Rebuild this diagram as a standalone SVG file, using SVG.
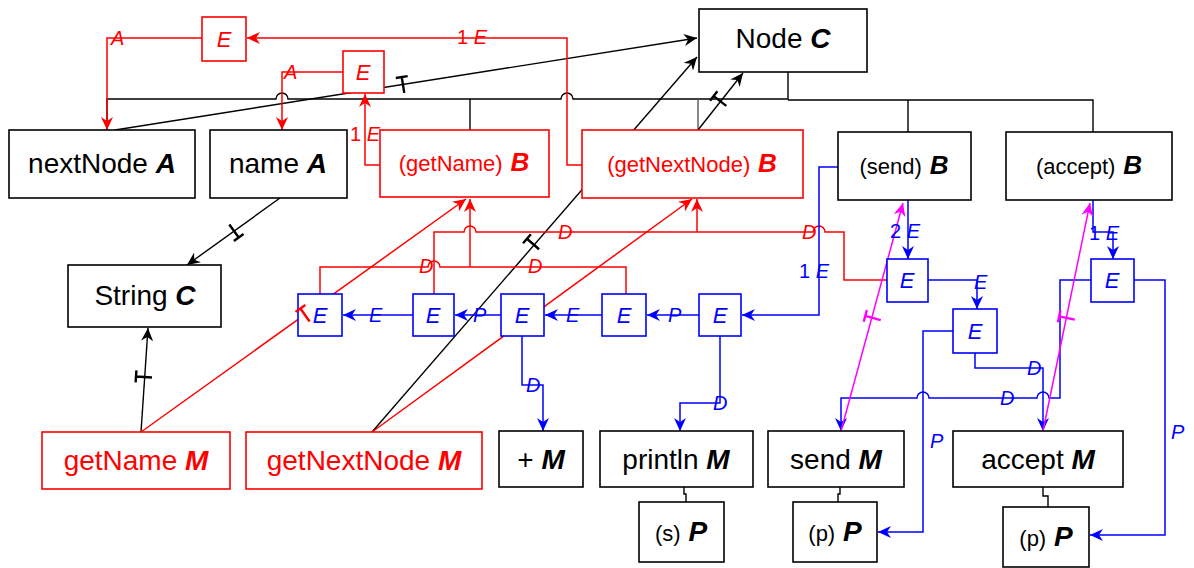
<svg xmlns="http://www.w3.org/2000/svg" width="1194" height="568" viewBox="0 0 1194 568">
  <style>
    text { font-family: "Liberation Sans", Arial, sans-serif; }
    .box { fill: #fff; stroke: #000; stroke-width: 1.6; }
    .rbox { fill: #fff; stroke: #ff0000; stroke-width: 1.6; }
    .ebox { fill: #fff; stroke: #0000ff; stroke-width: 1.6; }
    .erbox { fill: #fff; stroke: #ff0000; stroke-width: 1.6; }
    .lbl { font-size: 28px; text-anchor: middle; fill: #000; }
    .rl { fill: #ff0000; }
    .sm { font-size: 22px; }
    .kind { font-weight: bold; font-style: italic; }
    .etxt { font-size: 22px; font-style: italic; text-anchor: middle; }
    .elab { font-size: 20px; font-style: italic; }
    .num { font-style: normal; }
    .k { fill: none; stroke: #000; stroke-width: 1.4; }
    .kg { fill: none; stroke: #555; stroke-width: 1.4; }
    .r { fill: none; stroke: #ff0000; stroke-width: 1.5; }
    .b { fill: none; stroke: #0000ff; stroke-width: 1.5; }
    .m { fill: none; stroke: #ff00ff; stroke-width: 1.5; }
    .tick { fill: none; stroke-width: 2.4; }
  </style>
  <defs>
    <marker id="ak" markerUnits="userSpaceOnUse" markerWidth="14" markerHeight="12" refX="13" refY="6" orient="auto">
      <path d="M0,0 L13,6 L0,12 L4,6 Z" fill="#000"/>
    </marker>
    <marker id="ar" markerUnits="userSpaceOnUse" markerWidth="14" markerHeight="12" refX="13" refY="6" orient="auto">
      <path d="M0,0 L13,6 L0,12 L4,6 Z" fill="#ff0000"/>
    </marker>
    <marker id="ab" markerUnits="userSpaceOnUse" markerWidth="14" markerHeight="12" refX="13" refY="6" orient="auto">
      <path d="M0,0 L13,6 L0,12 L4,6 Z" fill="#0000ff"/>
    </marker>
    <marker id="am" markerUnits="userSpaceOnUse" markerWidth="14" markerHeight="12" refX="13" refY="6" orient="auto">
      <path d="M0,0 L13,6 L0,12 L4,6 Z" fill="#ff00ff"/>
    </marker>
    <!-- cut mark drawn across a reference line -->
    <path id="t" d="M0,-8 V8 M-6,-8 H6"/>
  </defs>

  <!-- connectors -->
  <g id="connectors">
    <!-- containment tree under Node -->
    <path class="k" d="M107,130 V99 H276 a6,6 0 0 1 12,0 H561 a6,6 0 0 1 12,0 H788 V72"/>
    <path class="k" d="M470,99 V130"/>
    <path class="kg" d="M698,99 V130"/>
    <path class="k" d="M788,100 H1093 V132 M908,100 V132"/>

    <!-- type references -->
    <path class="k" d="M115,130 L697,38" marker-end="url(#ak)"/>
    <path class="k" d="M280,198 L187,265" marker-end="url(#ak)"/>
    <path class="k" d="M141,432 L148,328" marker-end="url(#ak)"/>
    <path class="k" d="M372,432 L697,57" marker-end="url(#ak)"/>
    <path class="k" d="M698,130 L743,73" marker-end="url(#ak)"/>
    <use href="#t" class="tick" stroke="#000" transform="translate(403,85) rotate(-9)"/>
    <use href="#t" class="tick" stroke="#000" transform="translate(234,231) rotate(144)"/>
    <use href="#t" class="tick" stroke="#000" transform="translate(144,377) rotate(-86)"/>
    <use href="#t" class="tick" stroke="#000" transform="translate(533,244) rotate(-49)"/>
    <use href="#t" class="tick" stroke="#000" transform="translate(720,101) rotate(-52)"/>

    <!-- parameter links -->
    <path class="k" d="M684,487 V494 H686 V502"/>
    <path class="k" d="M840,487 V494 H838 V502"/>
    <path class="k" d="M1043,487 V496 H1048 V507"/>

    <!-- red: getter bodies -->
    <path class="r" d="M582,165 H567 V38 H247" marker-end="url(#ar)"/>
    <path class="r" d="M202,38 H107 V130" marker-end="url(#ar)"/>
    <path class="r" d="M380,165 H365 V94" marker-end="url(#ar)"/>
    <path class="r" d="M343,72 H282 V130" marker-end="url(#ar)"/>
    <path class="r" d="M141,432 L466,199" marker-end="url(#ar)"/>
    <path class="r" d="M372,432 L692,199" marker-end="url(#ar)"/>
    <path class="r" d="M320,294 V267 H428 a6,6 0 0 1 12,0 H626 V294"/>
    <path class="r" d="M470,267 V199" marker-end="url(#ar)"/>
    <path class="r" d="M434,294 V232 H464 a6,6 0 0 1 12,0 H813 a6,6 0 0 1 12,0 H844 V280 H887"/>
    <path class="r" d="M697,232 V199" marker-end="url(#ar)"/>

    <!-- blue: call chains -->
    <path class="b" d="M413,315 H343" marker-end="url(#ab)"/>
    <path class="b" d="M501,315 H455" marker-end="url(#ab)"/>
    <path class="b" d="M602,315 H545" marker-end="url(#ab)"/>
    <path class="b" d="M699,315 H647" marker-end="url(#ab)"/>
    <path class="b" d="M838,167 H819 V315 H742" marker-end="url(#ab)"/>
    <path class="b" d="M522,336 V385 H543 V431" marker-end="url(#ab)"/>
    <path class="b" d="M720,336 V403 H680 V431" marker-end="url(#ab)"/>
    <path class="b" d="M908,200 V259" marker-end="url(#ab)"/>
    <path class="b" d="M928,280 H977 V309" marker-end="url(#ab)"/>
    <path class="b" d="M975,353 V368 H1043 V431" marker-end="url(#ab)"/>
    <path class="b" d="M953,331 H923 V532 H878" marker-end="url(#ab)"/>
    <path class="b" d="M1093,200 V232 H1113 V259" marker-end="url(#ab)"/>
    <path class="b" d="M1134,280 H1165 V535 H1090" marker-end="url(#ab)"/>
    <path class="b" d="M1091,280 H1060 V398 H1049 a6,6 0 0 0 -12,0 H929 a6,6 0 0 0 -12,0 H841 V431" marker-end="url(#ab)"/>

    <!-- magenta: overrides -->
    <path class="m" d="M841,431 L903,203" marker-end="url(#am)"/>
    <path class="m" d="M1043,431 L1090,203" marker-end="url(#am)"/>
    <use href="#t" class="tick" stroke="#ff00ff" transform="translate(873,318) rotate(-75)"/>
    <use href="#t" class="tick" stroke="#ff00ff" transform="translate(1067,318) rotate(-78)"/>

    <!-- connector labels -->
    <g fill="#ff0000" class="elab">
      <text x="111" y="45">A</text>
      <text x="284" y="79">A</text>
      <text x="457" y="44"><tspan class="num">1 </tspan>E</text>
      <text x="350" y="141"><tspan class="num">1 </tspan>E</text>
      <text x="419" y="273">D</text>
      <text x="528" y="273">D</text>
      <text x="558" y="239">D</text>
      <text x="802" y="239">D</text>
    </g>
    <g fill="#0000ff" class="elab">
      <text x="369" y="322">E</text>
      <text x="473" y="322">P</text>
      <text x="566" y="322">E</text>
      <text x="668" y="322">P</text>
      <text x="799" y="278"><tspan class="num">1 </tspan>E</text>
      <text x="526" y="392">D</text>
      <text x="713" y="410">D</text>
      <text x="890" y="238"><tspan class="num">2 </tspan>E</text>
      <text x="974" y="289">E</text>
      <text x="1089" y="240"><tspan class="num">1 </tspan>E</text>
      <text x="1027" y="375">D</text>
      <text x="1000" y="405">D</text>
      <text x="930" y="448">P</text>
      <text x="1171" y="439">P</text>
    </g>
  </g>

  <!-- class and members -->
  <g id="node-c">
    <rect class="box" x="699" y="9" width="168" height="63"/>
    <text class="lbl" x="783" y="48">Node <tspan class="kind">C</tspan></text>
  </g>
  <g id="nextnode-a">
    <rect class="box" x="9" y="130" width="186" height="68"/>
    <text class="lbl" x="102" y="173">nextNode <tspan class="kind">A</tspan></text>
  </g>
  <g id="name-a">
    <rect class="box" x="210" y="130" width="137" height="68"/>
    <text class="lbl" x="278" y="173">name <tspan class="kind">A</tspan></text>
  </g>
  <g id="getname-b">
    <rect class="rbox" x="380" y="130" width="169" height="67"/>
    <text class="lbl rl" x="464" y="171"><tspan class="sm">(getName)</tspan> <tspan class="kind" font-size="26">B</tspan></text>
  </g>
  <g id="getnextnode-b">
    <rect class="rbox" x="582" y="130" width="221" height="68"/>
    <text class="lbl rl" x="692" y="172"><tspan class="sm">(getNextNode)</tspan> <tspan class="kind" font-size="26">B</tspan></text>
  </g>
  <g id="send-b">
    <rect class="box" x="838" y="132" width="133" height="68"/>
    <text class="lbl" x="904" y="174"><tspan class="sm">(send)</tspan> <tspan class="kind" font-size="26">B</tspan></text>
  </g>
  <g id="accept-b">
    <rect class="box" x="1006" y="132" width="166" height="68"/>
    <text class="lbl" x="1089" y="174"><tspan class="sm">(accept)</tspan> <tspan class="kind" font-size="26">B</tspan></text>
  </g>
  <g id="string-c">
    <rect class="box" x="68" y="265" width="153" height="62"/>
    <text class="lbl" x="145" y="305">String <tspan class="kind">C</tspan></text>
  </g>
  <g id="getname-m">
    <rect class="rbox" x="42" y="432" width="188" height="57"/>
    <text class="lbl rl" x="136" y="470">getName <tspan class="kind">M</tspan></text>
  </g>
  <g id="getnextnode-m">
    <rect class="rbox" x="246" y="432" width="236" height="57"/>
    <text class="lbl rl" x="364" y="470">getNextNode <tspan class="kind">M</tspan></text>
  </g>
  <g id="plus-m">
    <rect class="box" x="499" y="431" width="84" height="56"/>
    <text class="lbl" x="541" y="469">+ <tspan class="kind">M</tspan></text>
  </g>
  <g id="println-m">
    <rect class="box" x="600" y="431" width="153" height="56"/>
    <text class="lbl" x="676" y="469">println <tspan class="kind">M</tspan></text>
  </g>
  <g id="send-m">
    <rect class="box" x="768" y="431" width="136" height="56"/>
    <text class="lbl" x="836" y="469">send <tspan class="kind">M</tspan></text>
  </g>
  <g id="accept-m">
    <rect class="box" x="953" y="431" width="170" height="56"/>
    <text class="lbl" x="1038" y="469">accept <tspan class="kind">M</tspan></text>
  </g>
  <g id="s-p">
    <rect class="box" x="639" y="502" width="85" height="60"/>
    <text class="lbl" x="681" y="541"><tspan class="sm">(s)</tspan> <tspan class="kind">P</tspan></text>
  </g>
  <g id="p-p-send">
    <rect class="box" x="793" y="502" width="84" height="60"/>
    <text class="lbl" x="835" y="541"><tspan class="sm">(p)</tspan> <tspan class="kind">P</tspan></text>
  </g>
  <g id="p-p-accept">
    <rect class="box" x="1003" y="507" width="86" height="60"/>
    <text class="lbl" x="1046" y="546"><tspan class="sm">(p)</tspan> <tspan class="kind">P</tspan></text>
  </g>

  <!-- expression nodes -->
  <g id="e-r1"><rect class="erbox" x="202" y="17" width="44" height="44"/><text class="etxt" fill="#ff0000" x="224" y="47">E</text></g>
  <g id="e-r2"><rect class="erbox" x="343" y="51" width="41" height="42"/><text class="etxt" fill="#ff0000" x="363" y="80">E</text></g>
  <g id="e-b1"><rect class="ebox" x="298" y="294" width="44" height="42"/><text class="etxt" fill="#0000ff" x="320" y="323">E</text></g>
  <g id="e-b2"><rect class="ebox" x="413" y="294" width="41" height="42"/><text class="etxt" fill="#0000ff" x="433" y="323">E</text></g>
  <g id="e-b3"><rect class="ebox" x="501" y="294" width="43" height="42"/><text class="etxt" fill="#0000ff" x="522" y="323">E</text></g>
  <g id="e-b4"><rect class="ebox" x="602" y="294" width="44" height="42"/><text class="etxt" fill="#0000ff" x="624" y="323">E</text></g>
  <g id="e-b5"><rect class="ebox" x="699" y="294" width="42" height="42"/><text class="etxt" fill="#0000ff" x="720" y="323">E</text></g>
  <g id="e-b6"><rect class="ebox" x="887" y="259" width="41" height="43"/><text class="etxt" fill="#0000ff" x="907" y="288">E</text></g>
  <g id="e-b7"><rect class="ebox" x="953" y="309" width="44" height="44"/><text class="etxt" fill="#0000ff" x="975" y="339">E</text></g>
  <g id="e-b8"><rect class="ebox" x="1091" y="259" width="43" height="43"/><text class="etxt" fill="#0000ff" x="1112" y="288">E</text></g>

  <!-- cut mark on the getName reference, drawn above the expression box it crosses -->
  <g id="connector-marks">
    <use href="#t" class="tick" stroke="#ff0000" transform="translate(305,315) rotate(-35)"/>
  </g>
</svg>
